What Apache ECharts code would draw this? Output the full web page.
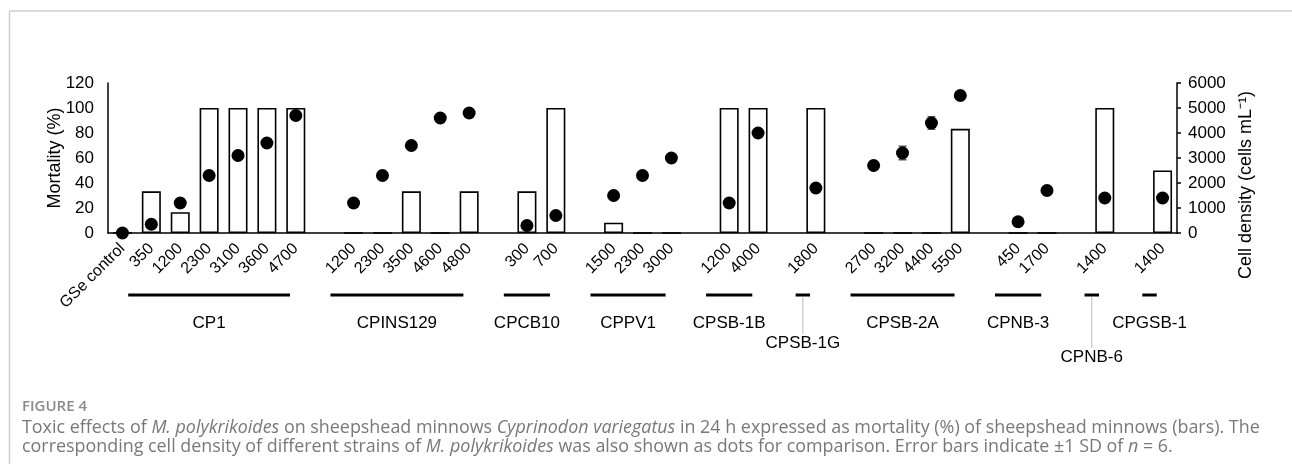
<!DOCTYPE html>
<html>
<head>
<meta charset="utf-8">
<script src="https://cdn.jsdelivr.net/npm/echarts@6/dist/echarts.min.js"></script>
<style>
  html, body { margin: 0; padding: 0; background: #fff; }
  #main { width: 1292px; height: 464px; }
</style>
</head>
<body>
<div id="main"></div>
<script>
// categories on the x axis ('' = spacer slot between strains)
const categories = ['GSe control', '350', '1200', '2300', '3100', '3600', '4700', '',
    '1200', '2300', '3500', '4600', '4800', '',
    '300', '700', '',
    '1500', '2300', '3000', '',
    '1200', '4000', '',
    '1800', '',
    '2700', '3200', '4400', '5500', '',
    '450', '1700', '',
    '1400', '',
    '1400'];
// mortality (%) - bars
const mortality = [0, 33.3, 16.7, 100, 100, 100, 100, null,
    0, 0, 33.3, 0, 33.3, null,
    33.3, 100, null,
    8.3, 0, 0, null,
    100, 100, null,
    100, null,
    0, 0, 0, 83.3, null,
    0, 0, null,
    100, null,
    50];
// cell density (cells mL-1) - dots
const cellDensity = [0, 350, 1200, 2300, 3100, 3600, 4700, null,
    1200, 2300, 3500, 4600, 4800, null,
    300, 700, null,
    1500, 2300, 3000, null,
    1200, 4000, null,
    1800, null,
    2700, 3200, 4400, 5500, null,
    450, 1700, null,
    1400, null,
    1400];
// SD of cell density (only where visible)
const cellSD = [null, null, null, null, null, null, null, null,
    null, null, null, 150, null, null,
    null, null, null,
    null, null, null, null,
    null, null, null,
    null, null,
    null, 270, 250, null, null,
    null, null, null,
    null, null,
    null];
// strain groups under the axis
const groupNames = ['CP1', 'CPINS129', 'CPCB10', 'CPPV1', 'CPSB-1B', 'CPSB-1G', 'CPSB-2A', 'CPNB-3', 'CPNB-6', 'CPGSB-1'];
const groupFirst = [1, 8, 14, 17, 21, 24, 26, 31, 34, 36];
const groupLast = [6, 12, 15, 19, 22, 24, 29, 32, 34, 36];
const droppedLabels = { 'CPSB-1G': 343, 'CPNB-6': 357 };

const FONT = 'Liberation Sans, Arial, sans-serif';
const CAP_FONT = 'Open Sans, sans-serif';

var chart = echarts.init(document.getElementById('main'));

var option = {
    animation: false,
    backgroundColor: '#fff',
    grid: { left: 108, right: 115, top: 83, bottom: 231, containLabel: false },
    xAxis: {
        type: 'category',
        data: categories,
        boundaryGap: true,
        axisLine: { lineStyle: { color: '#000', width: 1.5 } },
        axisTick: { show: false },
        axisLabel: {
            interval: 0, rotate: 45, margin: 13,
            color: '#000', fontSize: 16, fontFamily: FONT
        },
        splitLine: { show: false }
    },
    yAxis: [{
        type: 'value', min: 0, max: 120, interval: 20,
        axisLine: { show: true, lineStyle: { color: '#000', width: 1.5 } },
        axisTick: { show: false },
        splitLine: { show: false },
        axisLabel: { color: '#000', fontSize: 17, fontFamily: FONT, margin: 14 }
    }, {
        type: 'value', min: 0, max: 6000, interval: 1000,
        position: 'right',
        axisLine: { show: true, lineStyle: { color: '#000', width: 1.5 } },
        axisTick: { show: true, inside: false, length: 4, lineStyle: { color: '#000', width: 1.5 } },
        splitLine: { show: false },
        axisLabel: {
            color: '#000', fontSize: 17, fontFamily: FONT, margin: 11,
            formatter: function (v) { return String(v); }
        }
    }],
    series: [{
        name: 'Mortality',
        type: 'bar',
        data: mortality,
        barWidth: 19,
        itemStyle: { color: '#fff', borderColor: '#000', borderWidth: 1.6 }
    }, {
        name: 'SD',
        type: 'custom',
        yAxisIndex: 1,
        z: 3,
        data: cellSD.map(function (sd, i) {
            return sd == null ? null : [i, cellDensity[i] - sd, cellDensity[i] + sd];
        }).filter(function (d) { return d; }),
        renderItem: function (params, api) {
            var lo = api.coord([api.value(0), api.value(1)]);
            var hi = api.coord([api.value(0), api.value(2)]);
            var w = 4;
            var st = { stroke: '#555', lineWidth: 1.5 };
            return {
                type: 'group',
                children: [
                    { type: 'line', shape: { x1: lo[0], y1: lo[1], x2: hi[0], y2: hi[1] }, style: st },
                    { type: 'line', shape: { x1: lo[0] - w, y1: lo[1], x2: lo[0] + w, y2: lo[1] }, style: st },
                    { type: 'line', shape: { x1: hi[0] - w, y1: hi[1], x2: hi[0] + w, y2: hi[1] }, style: st }
                ]
            };
        }
    }, {
        name: 'Cell density',
        type: 'scatter',
        yAxisIndex: 1,
        z: 4,
        data: cellDensity,
        symbol: 'circle',
        symbolSize: 13,
        itemStyle: { color: '#000', opacity: 1 }
    }]
};
chart.setOption(option);

// annotations: group lines + names, axis titles, caption, frame
var slot = chart.convertToPixel({ xAxisIndex: 0 }, 1) - chart.convertToPixel({ xAxisIndex: 0 }, 0);
var lineY = 295;
var g = [];
groupNames.forEach(function (name, k) {
    var x1 = chart.convertToPixel({ xAxisIndex: 0 }, groupFirst[k]) - 0.8 * slot;
    var x2 = chart.convertToPixel({ xAxisIndex: 0 }, groupLast[k]) - 0.2 * slot;
    if (groupFirst[k] === groupLast[k]) { x1 = x1 + 0.1 * slot; }
    var cx = (x1 + x2) / 2;
    g.push({ type: 'line', shape: { x1: x1, y1: lineY, x2: x2, y2: lineY }, style: { stroke: '#000', lineWidth: 3 } });
    var ty = droppedLabels[name] || 323;
    if (droppedLabels[name]) {
        g.push({ type: 'line', shape: { x1: cx, y1: lineY + 2, x2: cx, y2: ty - 9 }, style: { stroke: '#bbb', lineWidth: 1 } });
    }
    g.push({ type: 'text', x: cx, y: ty, style: { text: name, font: '17px ' + FONT, fill: '#000', align: 'center', verticalAlign: 'middle' } });
});
g.push({ type: 'text', x: 55, y: 158, rotation: Math.PI / 2,
    style: { text: 'Mortality (%)', font: '18px ' + FONT, fill: '#000', align: 'center', verticalAlign: 'middle' } });
g.push({ type: 'text', x: 1246, y: 185, rotation: Math.PI / 2,
    style: { text: 'Cell density (cells mL⁻¹)', font: '18px ' + FONT, fill: '#000', align: 'center', verticalAlign: 'middle' } });
// frame
g.push({ type: 'line', shape: { x1: 9, y1: 11, x2: 1292, y2: 11 }, style: { stroke: '#cfcfcf', lineWidth: 1.5 } });
g.push({ type: 'line', shape: { x1: 9.5, y1: 11, x2: 9.5, y2: 464 }, style: { stroke: '#cfcfcf', lineWidth: 1.5 } });
// caption
g.push({ type: 'text', x: 22, y: 407,
    style: { text: 'FIGURE 4', font: '600 15px ' + CAP_FONT, fill: '#8a8a8a', verticalAlign: 'middle' } });
var capRich = {
    n: { fontSize: 17.9, fontFamily: CAP_FONT, fill: '#787878' },
    i: { fontSize: 17.9, fontFamily: CAP_FONT, fill: '#787878', fontStyle: 'italic' }
};
g.push({ type: 'text', x: 22, y: 428,
    style: { verticalAlign: 'middle', text: '{n|Toxic effects of }{i|M. polykrikoides}{n| on sheepshead minnows }{i|Cyprinodon variegatus}{n| in 24 h expressed as mortality (%) of sheepshead minnows (bars). The}',
        rich: capRich } });
g.push({ type: 'text', x: 22, y: 447,
    style: { verticalAlign: 'middle', text: '{n|corresponding cell density of different strains of }{i|M. polykrikoides}{n| was also shown as dots for comparison. Error bars indicate ±1 SD of }{i|n}{n| = 6.}',
        rich: capRich } });
chart.setOption({ graphic: g });
</script>
</body>
</html>
